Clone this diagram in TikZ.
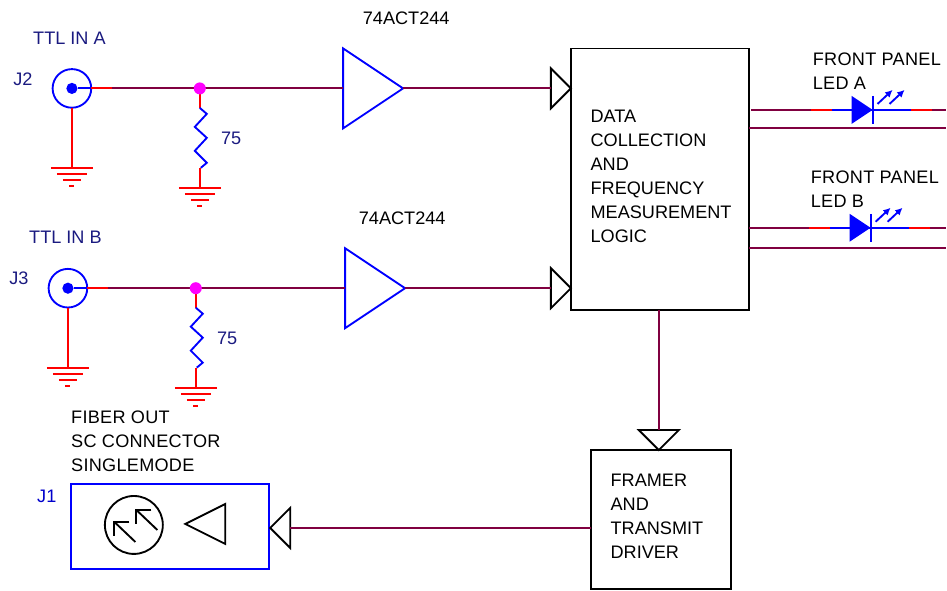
\documentclass[tikz,border=0pt]{standalone}
\usepackage{fontspec}
\setmainfont{Liberation Sans}
\newfontfamily\widefont[LetterSpace=1.5]{Liberation Sans}
\usepackage{tikz}
\usetikzlibrary{arrows.meta,shapes.geometric}

\definecolor{netcol}{RGB}{128,0,64}
\definecolor{inkcol}{RGB}{26,26,128}
\definecolor{pincol}{RGB}{255,0,255}

\begin{document}
\begin{tikzpicture}[
  x=0.75pt, y=-0.75pt,
  >=Latex,
  every node/.style={font=\fontsize{13.6}{18}\selectfont},
  net/.style={draw=netcol, line width=1.5pt},
  redw/.style={draw=red, line width=1.4pt},
  bluew/.style={draw=blue, line width=1.4pt},
  lab/.style={anchor=west, inner sep=0pt, align=left, text=black},
  widelab/.style={lab, font=\widefont\fontsize{13.6}{18}\selectfont},
  netlab/.style={lab, text=inkcol},
  logic/.style={rectangle, draw=black, line width=1.4pt, anchor=north west, inner sep=0pt, outer sep=0pt, minimum width=133.5pt},
  buf/.style={isosceles triangle, isosceles triangle stretches, draw=blue, line width=1.4pt, inner sep=0pt, outer sep=0pt, minimum width=60pt, minimum height=45pt, anchor=apex},
  pintri/.style={isosceles triangle, isosceles triangle stretches, draw=black, line width=1.4pt, inner sep=0pt, outer sep=0pt, minimum width=30pt, minimum height=15pt, anchor=apex},
  coax/.style={circle, draw=blue, line width=1.4pt, inner sep=0pt, outer sep=0pt, minimum size=29pt},
  coredot/.style={circle, fill=blue, inner sep=0pt, minimum size=8.4pt},
  junct/.style={circle, fill=pincol, inner sep=0pt, minimum size=9pt},
  gnd/.pic={
    \draw[redw] (-21,0) -- (21,0);
    \draw[redw] (-15,6.5) -- (15,6.5);
    \draw[redw] (-9,12.5) -- (9,12.5);
    \draw[redw] (-2.5,18) -- (2.5,18);
  },
  resis/.pic={
    \draw[bluew] (0,0) -- (7,6) -- (-5,19) -- (7,30) -- (-5,43) -- (7,55) -- (1,60);
  },
  ledsym/.pic={
    \fill[blue] (-21,-14) -- (0,0) -- (-21,14) -- cycle;
    \draw[bluew] (0,-14) -- (0,14);
    \draw[bluew, -{Latex[length=5.5pt,width=5.5pt]}] (5,-6) -- (20,-20);
    \draw[bluew, -{Latex[length=5.5pt,width=5.5pt]}] (17,-6) -- (32,-20);
  },
  rxarrow/.pic={
    \draw[draw=black, line width=1.4pt] (0,0) -- (-21,-20);
    \draw[draw=black, line width=1.4pt] (-6,-20) -- (-21,-20) -- (-21,-6);
  }
]
  \node[logic, minimum height=196.5pt] (logic) at (571.5,48.5) {};
  \node[logic, minimum width=105pt, minimum height=104.5pt] (framer) at (591.5,450.5) {};
  \node[rectangle, draw=blue, line width=1.4pt, anchor=north west, inner sep=0pt, outer sep=0pt, minimum width=149pt, minimum height=63.5pt] (fiber) at (71,484.5) {};

  \node[coax] (jtwo) at (72,88.5) {};
  \node[coredot] (jtwocore) at (72,88.5) {};
  \node[coax] (jthree) at (68,288.5) {};
  \node[coredot] (jthreecore) at (68,288.5) {};

  \node[buf] (bufa) at (403.5,88.5) {};
  \node[buf] (bufb) at (405.5,288.5) {};
  \node[pintri] (pina) at (571.5,88.5) {};
  \node[pintri] (pinb) at (571.5,288.5) {};
  \node[pintri, shape border rotate=270] (pinc) at (659.5,450.5) {};
  \node[pintri, shape border rotate=180] (pind) at (270.5,528.5) {};
  \node[pintri, shape border rotate=180, minimum width=30pt, minimum height=30pt] (optic) at (185.5,524.5) {};

  \coordinate (ja) at (200,88.5);
  \coordinate (jb) at (196,288.5);
  \coordinate (ra) at (112,88.5);
  \coordinate (rb) at (108,288.5);

  \draw[bluew] (jtwocore) -- (jtwo.east);
  \draw[redw] (jtwo.east) -- (ra);
  \draw[net] (ra) -- (ja);
  \draw[net] (ja) -- (bufa.lower side);
  \draw[net] (bufa.apex) -- (pina.lower side);
  \draw[bluew] (jthreecore) -- (jthree.east);
  \draw[redw] (jthree.east) -- (rb);
  \draw[net] (rb) -- (jb);
  \draw[net] (jb) -- (bufb.lower side);
  \draw[net] (bufb.apex) -- (pinb.lower side);

  \coordinate (gnda) at (72,168);
  \coordinate (gndb) at (68,368);
  \coordinate (gndc) at (200,188);
  \coordinate (gndd) at (196,388);
  \coordinate (resa) at (200,108);
  \coordinate (resb) at (196,308);
  \coordinate (resc) at (200,168);
  \coordinate (resd) at (196,368);
  \draw[redw] (jtwo.south) -- (gnda);
  \draw[redw] (jthree.south) -- (gndb);
  \draw[redw] (ja) -- (resa);
  \draw[redw] (jb) -- (resb);
  \draw[redw] (resc) -- (gndc);
  \draw[redw] (resd) -- (gndd);
  \pic at (resa) {resis};
  \pic at (resb) {resis};
  \pic at (gnda) {gnd};
  \pic at (gndb) {gnd};
  \pic at (gndc) {gnd};
  \pic at (gndd) {gnd};
  \node[junct] (dota) at (ja) {};
  \node[junct] (dotb) at (jb) {};

  \coordinate (ledawest) at (752,110);
  \coordinate (ledared) at (812,110);
  \coordinate (ledablue) at (833,110);
  \coordinate (ledak) at (873.5,110);
  \coordinate (ledaout) at (912,110);
  \coordinate (ledaend) at (933,110);
  \coordinate (ledaedge) at (947,110);
  \draw[net] (ledawest) -- (ledared);
  \draw[redw] (ledared) -- (ledablue);
  \draw[bluew] (ledablue) -- (ledak) -- (ledaout);
  \draw[redw] (ledaout) -- (ledaend);
  \draw[net] (ledaend) -- (ledaedge);
  \pic at (ledak) {ledsym};

  \coordinate (ledbwest) at (750,228);
  \coordinate (ledbred) at (810,228);
  \coordinate (ledbblue) at (831,228);
  \coordinate (ledbk) at (871.5,228);
  \coordinate (ledbout) at (910,228);
  \coordinate (ledbend) at (931,228);
  \coordinate (ledbedge) at (947,228);
  \draw[net] (ledbwest) -- (ledbred);
  \draw[redw] (ledbred) -- (ledbblue);
  \draw[bluew] (ledbblue) -- (ledbk) -- (ledbout);
  \draw[redw] (ledbout) -- (ledbend);
  \draw[net] (ledbend) -- (ledbedge);
  \pic at (ledbk) {ledsym};

  \coordinate (reta) at (750,128);
  \coordinate (retae) at (947,128);
  \coordinate (retb) at (750,248);
  \coordinate (retbe) at (947,248);
  \draw[net] (reta) -- (retae);
  \draw[net] (retb) -- (retbe);

  \coordinate (logicout) at (659.5,310);
  \draw[net] (logicout) -- (pinc.lower side);
  \draw[net] (framer.west |- pind) -- (pind.lower side);

  \node[circle, draw=black, line width=1.4pt, inner sep=0pt, minimum size=43.5pt] (rxeye) at (134,525.5) {};
  \pic at (135.5,542.5) {rxarrow};
  \pic at (157.5,530.5) {rxarrow};

  \node[netlab] (tina) at (33,38) {TTL IN A};
  \node[netlab] (tinb) at (29,238) {TTL IN B};
  \node[netlab] (ltwo) at (13,79.5) {J2};
  \node[netlab] (lthree) at (9,278.5) {J3};
  \node[netlab] (rvala) at (221,138.5) {75};
  \node[netlab] (rvalb) at (217,338.5) {75};
  \node[lab] (parta) at (363,18) {74ACT244};
  \node[lab] (partb) at (359,218) {74ACT244};
  \node[widelab] (ltxta) at (813.5,71.5) {FRONT PANEL\\LED A};
  \node[widelab] (ltxtb) at (811.5,189.5) {FRONT PANEL\\LED B};
  \node[lab] (logictxt) at (591,176.5) {DATA\\COLLECTION\\AND\\FREQUENCY\\MEASUREMENT\\LOGIC};
  \node[lab] (framertxt) at (611,516.5) {FRAMER\\AND\\TRANSMIT\\DRIVER};
  \node[widelab] (fibertxt) at (71,441.5) {FIBER OUT\\SC CONNECTOR\\SINGLEMODE};
  \node[netlab, text=blue!80!black] (lone) at (37,496.5) {J1};

  \useasboundingbox (0,0) rectangle (947,590);
\end{tikzpicture}
\end{document}
